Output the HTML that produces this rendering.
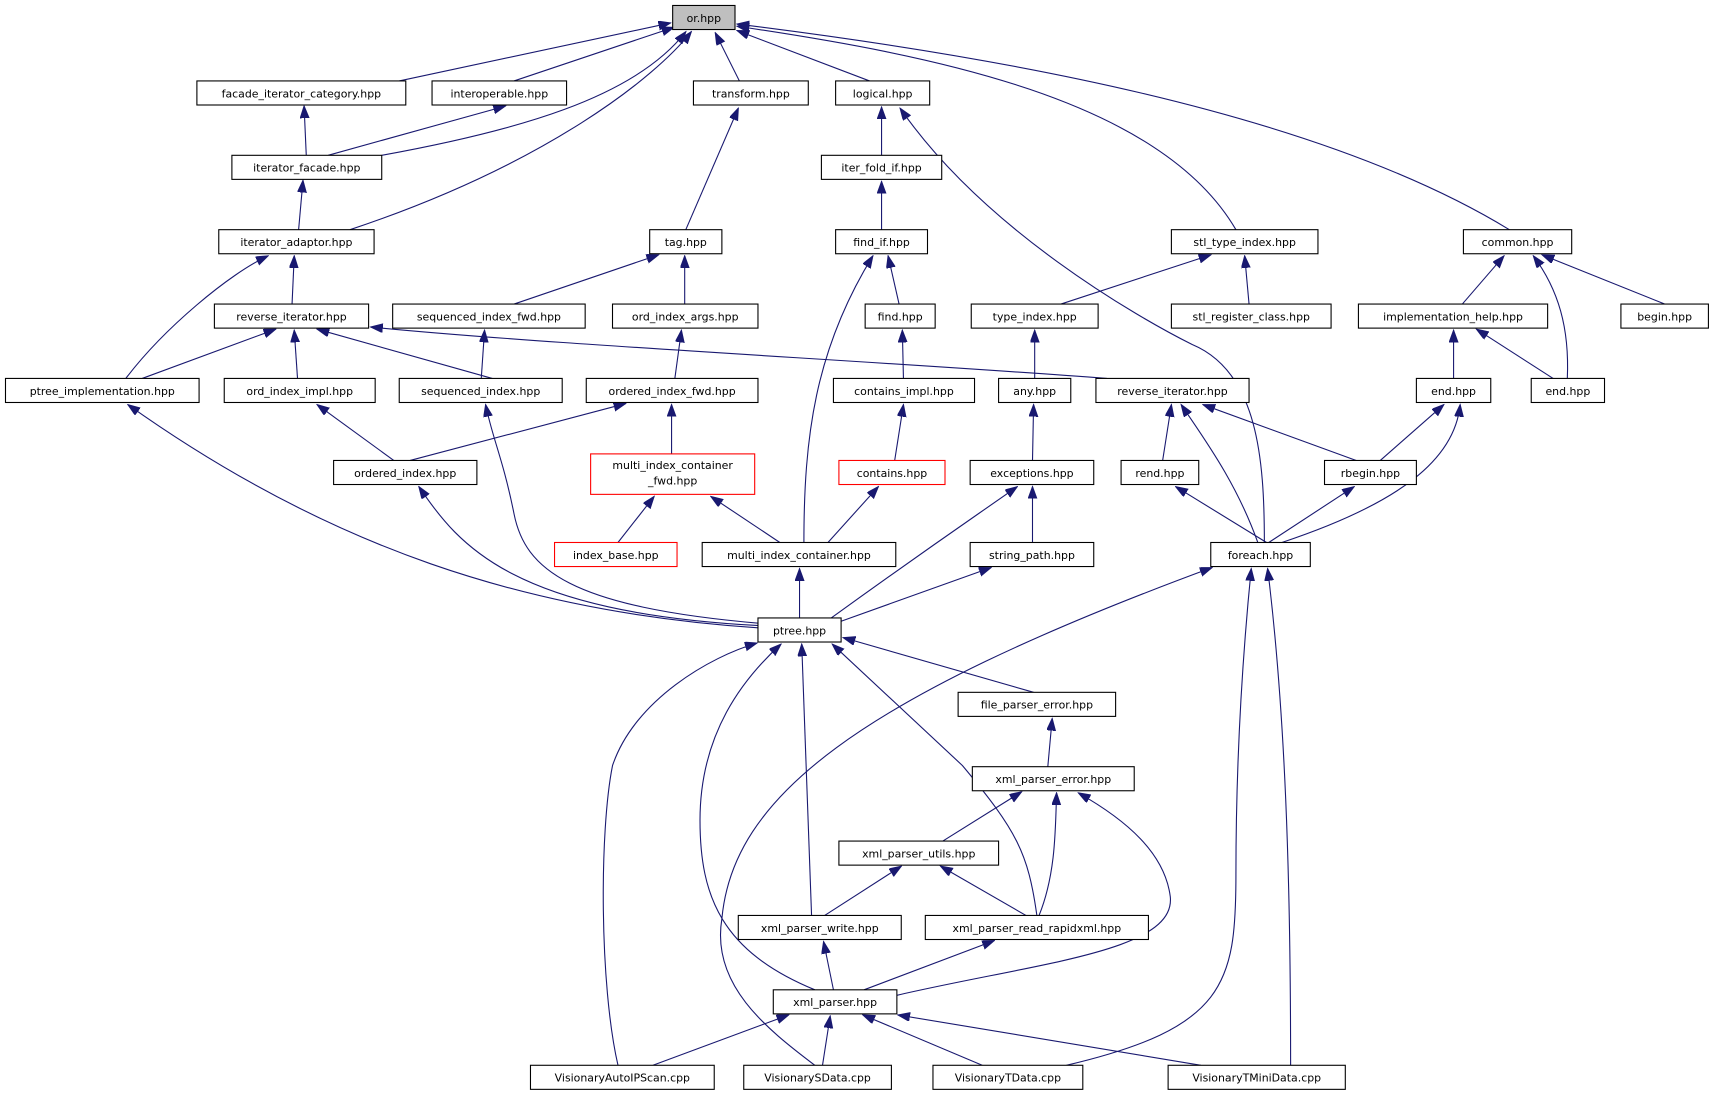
<!DOCTYPE html>
<html><head><meta charset="utf-8"><style>
html,body{margin:0;padding:0;background:#fff;}
svg{display:block;}
text{font-family:"DejaVu Sans","Liberation Sans",sans-serif;font-size:10px;fill:#000;}
.b{fill:#fff;stroke:#000;stroke-width:1;}
.r{fill:#fff;stroke:#ff0000;stroke-width:1;}
.e{fill:none;stroke:#191970;stroke-width:1;}
</style></head><body>
<svg width="1715" height="1097" viewBox="0 0 1568 1003" xmlns="http://www.w3.org/2000/svg">
<defs><marker id="a" markerUnits="userSpaceOnUse" markerWidth="12" markerHeight="10" refX="11" refY="4" orient="auto"><path d="M0,0 L11,4 L0,8 Z" fill="#191970" stroke="#191970"/></marker></defs>
<g class="e" marker-end="url(#a)">
<path d="M365,74 L613,21"/>
<path d="M470,74 L616,25"/>
<path d="M349,142 C470,120 580,90 627,29"/>
<path d="M320,210 C500,150 600,70 632,29"/>
<path d="M676,74 L654,30"/>
<path d="M795,74 L674,28"/>
<path d="M1130,210 C1060,90 850,50 674,24"/>
<path d="M1380,210 C1200,100 900,50 674,22"/>
<path d="M280,142 L278,97"/>
<path d="M300,142 L462,97"/>
<path d="M273,210 L277,165"/>
<path d="M627,210 L675,99"/>
<path d="M806,142 L806,98"/>
<path d="M1156,496 C1156,420 1150,340 1090,315 C1040,290 900,210 823,99"/>
<path d="M806,210 L806,166"/>
<path d="M267,278 L269,234"/>
<path d="M115,346 C150,300 210,250 245,234"/>
<path d="M470,278 L602,233"/>
<path d="M626,278 L626,234"/>
<path d="M822,278 L812,234"/>
<path d="M735,496 C735,400 745,320 798,234"/>
<path d="M970,278 L1107,233"/>
<path d="M1142,278 L1138,234"/>
<path d="M1337,278 L1375,234"/>
<path d="M1522,278 L1410,233"/>
<path d="M1433,346 C1435,300 1425,265 1402,234"/>
<path d="M130,346 L252,301"/>
<path d="M272,346 L269,302"/>
<path d="M450,346 L290,301"/>
<path d="M1012,346 C800,330 500,315 339,299"/>
<path d="M440,346 L443,302"/>
<path d="M617,346 L623,302"/>
<path d="M826,346 L825,302"/>
<path d="M946,346 L946,302"/>
<path d="M1329,346 L1329,302"/>
<path d="M1420,346 L1350,301"/>
<path d="M693,574 C480,560 300,500 117,370"/>
<path d="M360,421 L290,370"/>
<path d="M696,570 C520,555 480,520 470,470 C460,420 450,400 444,370"/>
<path d="M375,421 L572,369"/>
<path d="M614,415 L614,370"/>
<path d="M818,421 L826,370"/>
<path d="M944,421 L945,370"/>
<path d="M1063,421 L1071,370"/>
<path d="M1150,496 C1130,440 1100,400 1080,370"/>
<path d="M1240,421 L1100,370"/>
<path d="M1262,421 L1320,370"/>
<path d="M1172,496 C1280,460 1330,420 1335,370"/>
<path d="M694,572 C470,560 420,500 383,445"/>
<path d="M565,496 L598,454"/>
<path d="M713,496 L650,454"/>
<path d="M757,496 L803,445"/>
<path d="M1160,496 L1238,445"/>
<path d="M1158,496 L1075,445"/>
<path d="M760,565 C850,500 880,480 930,445"/>
<path d="M944,496 L944,445"/>
<path d="M731,565 L731,520"/>
<path d="M769,568 L906,519"/>
<path d="M745,974 C700,940 650,900 660,840 C670,730 780,640 1108,519"/>
<path d="M975,974 C1120,940 1130,900 1130,800 C1130,680 1138,580 1144,520"/>
<path d="M1180,974 C1180,800 1175,650 1159,520"/>
<path d="M945,633 L771,583"/>
<path d="M565,974 C548,900 548,760 560,700 C580,640 650,600 692,588"/>
<path d="M745,905 C660,870 640,820 640,750 C640,670 680,620 714,589"/>
<path d="M742,837 L733,589"/>
<path d="M948,837 C940,780 930,760 880,700 L761,589"/>
<path d="M958,701 L962,657"/>
<path d="M862,769 L934,724"/>
<path d="M950,837 C965,800 965,760 966,725"/>
<path d="M820,910 C950,880 1075,870 1070,820 C1065,780 1030,750 986,725"/>
<path d="M754,837 L824,792"/>
<path d="M938,837 L860,792"/>
<path d="M762,905 L753,861"/>
<path d="M790,905 L909,860"/>
<path d="M597,974 L721,928"/>
<path d="M752,974 L759,929"/>
<path d="M898,974 L789,928"/>
<path d="M1098,974 L821,928"/>
</g>
<g>
<rect x="615" y="5" width="57" height="22" fill="#bfbfbf" stroke="#000"/><text x="643.5" y="20" text-anchor="middle">or.hpp</text>
</g>
<g text-anchor="middle">
<rect class="b" x="180" y="74" width="191" height="22"/><text x="275.5" y="89">facade_iterator_category.hpp</text>
<rect class="b" x="395" y="74" width="123" height="22"/><text x="456.5" y="89">interoperable.hpp</text>
<rect class="b" x="634" y="74" width="105" height="22"/><text x="686.5" y="89">transform.hpp</text>
<rect class="b" x="764" y="74" width="86" height="22"/><text x="807" y="89">logical.hpp</text>
<rect class="b" x="212" y="142" width="137" height="22"/><text x="280.5" y="157">iterator_facade.hpp</text>
<rect class="b" x="751" y="142" width="110" height="22"/><text x="806" y="157">iter_fold_if.hpp</text>
<rect class="b" x="200" y="210" width="142" height="22"/><text x="271" y="225">iterator_adaptor.hpp</text>
<rect class="b" x="594" y="210" width="66" height="22"/><text x="627" y="225">tag.hpp</text>
<rect class="b" x="764" y="210" width="84" height="22"/><text x="806" y="225">find_if.hpp</text>
<rect class="b" x="1071" y="210" width="134" height="22"/><text x="1138" y="225">stl_type_index.hpp</text>
<rect class="b" x="1338" y="210" width="99" height="22"/><text x="1387.5" y="225">common.hpp</text>
<rect class="b" x="196" y="278" width="141" height="22"/><text x="266.5" y="293">reverse_iterator.hpp</text>
<rect class="b" x="359" y="278" width="176" height="22"/><text x="447" y="293">sequenced_index_fwd.hpp</text>
<rect class="b" x="560" y="278" width="133" height="22"/><text x="626.5" y="293">ord_index_args.hpp</text>
<rect class="b" x="791" y="278" width="64" height="22"/><text x="823" y="293">find.hpp</text>
<rect class="b" x="888" y="278" width="116" height="22"/><text x="946" y="293">type_index.hpp</text>
<rect class="b" x="1071" y="278" width="146" height="22"/><text x="1144" y="293">stl_register_class.hpp</text>
<rect class="b" x="1242" y="278" width="173" height="22"/><text x="1328.5" y="293">implementation_help.hpp</text>
<rect class="b" x="1482" y="278" width="80" height="22"/><text x="1522" y="293">begin.hpp</text>
<rect class="b" x="5" y="346" width="177" height="22"/><text x="93.5" y="361">ptree_implementation.hpp</text>
<rect class="b" x="205" y="346" width="138" height="22"/><text x="274" y="361">ord_index_impl.hpp</text>
<rect class="b" x="365" y="346" width="149" height="22"/><text x="439.5" y="361">sequenced_index.hpp</text>
<rect class="b" x="536" y="346" width="157" height="22"/><text x="614.5" y="361">ordered_index_fwd.hpp</text>
<rect class="b" x="762" y="346" width="129" height="22"/><text x="826.5" y="361">contains_impl.hpp</text>
<rect class="b" x="913" y="346" width="66" height="22"/><text x="946" y="361">any.hpp</text>
<rect class="b" x="1002" y="346" width="140" height="22"/><text x="1072" y="361">reverse_iterator.hpp</text>
<rect class="b" x="1295" y="346" width="68" height="22"/><text x="1329" y="361">end.hpp</text>
<rect class="b" x="1400" y="346" width="67" height="22"/><text x="1433.5" y="361">end.hpp</text>
<rect class="b" x="305" y="421" width="131" height="22"/><text x="370.5" y="436">ordered_index.hpp</text>
<rect class="r" x="540" y="415" width="150" height="37"/><text x="615" y="429">multi_index_container</text><text x="615" y="443">_fwd.hpp</text>
<rect class="r" x="767" y="421" width="97" height="22"/><text x="815.5" y="436">contains.hpp</text>
<rect class="b" x="887" y="421" width="113" height="22"/><text x="943.5" y="436">exceptions.hpp</text>
<rect class="b" x="1025" y="421" width="71" height="22"/><text x="1060.5" y="436">rend.hpp</text>
<rect class="b" x="1211" y="421" width="84" height="22"/><text x="1253" y="436">rbegin.hpp</text>
<rect class="r" x="507" y="496" width="112" height="22"/><text x="563" y="511">index_base.hpp</text>
<rect class="b" x="642" y="496" width="177" height="22"/><text x="730.5" y="511">multi_index_container.hpp</text>
<rect class="b" x="887" y="496" width="113" height="22"/><text x="943.5" y="511">string_path.hpp</text>
<rect class="b" x="1107" y="496" width="91" height="22"/><text x="1152.5" y="511">foreach.hpp</text>
<rect class="b" x="693" y="565" width="76" height="22"/><text x="731" y="580">ptree.hpp</text>
<rect class="b" x="876" y="633" width="144" height="22"/><text x="948" y="648">file_parser_error.hpp</text>
<rect class="b" x="889" y="701" width="148" height="22"/><text x="963" y="716">xml_parser_error.hpp</text>
<rect class="b" x="767" y="769" width="146" height="22"/><text x="840" y="784">xml_parser_utils.hpp</text>
<rect class="b" x="675" y="837" width="149" height="22"/><text x="749.5" y="852">xml_parser_write.hpp</text>
<rect class="b" x="846" y="837" width="204" height="22"/><text x="948" y="852">xml_parser_read_rapidxml.hpp</text>
<rect class="b" x="707" y="905" width="113" height="22"/><text x="763.5" y="920">xml_parser.hpp</text>
<rect class="b" x="485" y="974" width="168" height="22"/><text x="569" y="989">VisionaryAutoIPScan.cpp</text>
<rect class="b" x="680" y="974" width="135" height="22"/><text x="747.5" y="989">VisionarySData.cpp</text>
<rect class="b" x="853" y="974" width="137" height="22"/><text x="921.5" y="989">VisionaryTData.cpp</text>
<rect class="b" x="1068" y="974" width="162" height="22"/><text x="1149" y="989">VisionaryTMiniData.cpp</text>
</g>
</svg>
</body></html>
